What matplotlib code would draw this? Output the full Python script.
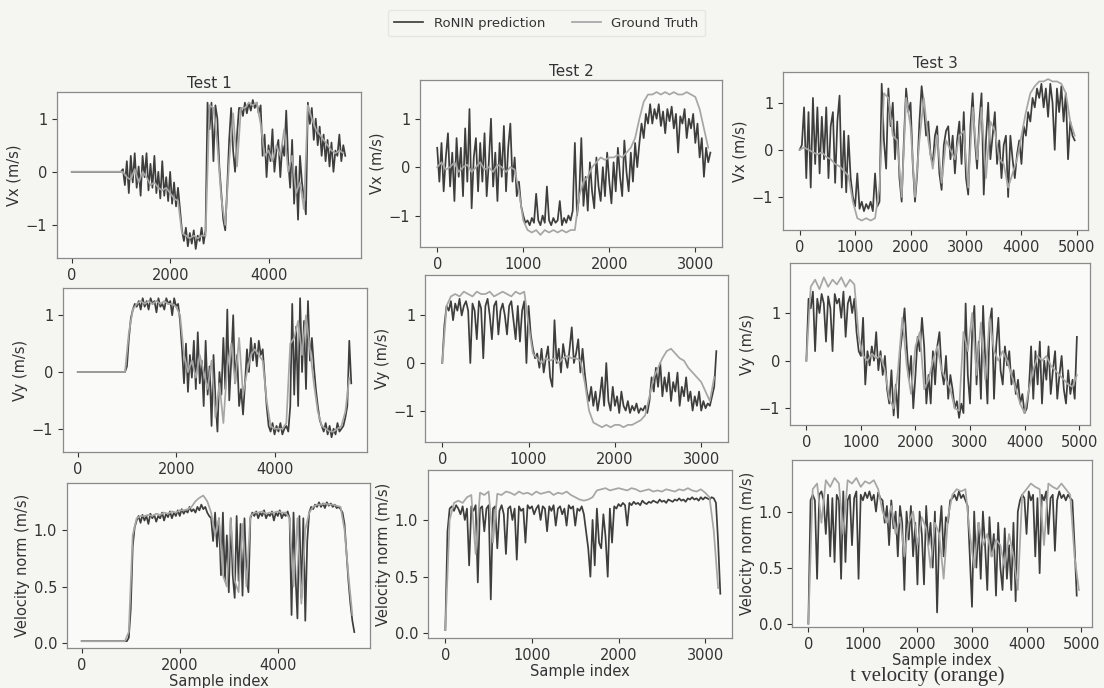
import numpy as np
import matplotlib
matplotlib.use("Agg")
import matplotlib.pyplot as plt

# ---------------- data ----------------
tests = ["Test 1", "Test 2", "Test 3"]
row_labels = ["Vx (m/s)", "Vy (m/s)", "Velocity norm (m/s)"]

step_pred = [40, 25, 40]
step_gt = [80, 50, 80]

t1_vx_pred = ([0.0] * 26 +
    [0.05, -0.25, 0.2, -0.4, 0.3, -0.2, 0.35, -0.3, 0.1, -0.45, 0.3, -0.1, 0.35, -0.35, 0.15,
     -0.3, 0.3, -0.4, 0.0, -0.5, 0.2, -0.45, -0.1, -0.55, 0.0, -0.6, -0.2, -0.65, -0.3, -0.7,
     -1.1, -1.3, -1.05, -1.4, -1.15, -1.35, -1.1, -1.45, -1.2, -1.3, -1.05, -1.35, -1.1,
     1.3, 0.8, 1.3, 0.2, 1.25, 1.0, 0.1,
     -0.4, -0.9, -1.1, -0.3, 0.6, 1.2, 0.4, 0.0, 0.7, 1.2,
     1.2, 1.05, 1.3, 1.1, 1.3, 1.15, 1.35, 1.2, 1.3, 1.1, 1.25,
     0.3, 0.7, -0.1, 0.5, 0.2, 0.8, 0.0, 0.4, 0.6, -0.1, 0.5, 0.3,
     1.15, 0.2, -0.3, 0.6, -0.6, 0.1, -0.9, 0.3, -0.2, -0.5, -0.8,
     1.3, 0.9, 1.2, 0.6, 1.0, 0.5, 0.85, 0.3, 0.7, 0.2, 0.6, 0.1, 0.55, 0.0, 0.4, 0.3, 0.7, 0.2, 0.5, 0.3])
t1_vx_gt = ([0.0] * 13 +
    [0.0, -0.1, -0.15, 0.05, -0.2, 0.0, -0.1, -0.25, -0.2, -0.3, -0.35, -0.3, -0.4, -0.5, -0.55,
     -1.15, -1.2, -1.25, -1.2, -1.25, -1.2, -1.2,
     1.25, 1.2, 0.5,
     -0.5, -1.0, 0.2, 1.1, 0.1,
     1.2, 1.2, 1.3, 1.25, 1.3,
     0.9, 0.3, 0.4, 0.2, 0.5, 0.3,
     0.8, 0.0, 0.3, -0.4, -0.2, -0.7,
     1.25, 1.0, 0.8, 0.7, 0.6, 0.5, 0.4, 0.35, 0.4, 0.35])

t1_vy_pred = ([0.0] * 25 +
    [0.1, 0.6, 0.95, 1.1, 1.2, 1.15,
     1.25, 1.1, 1.3, 1.15, 1.25, 1.1, 1.3, 1.2, 1.25, 1.05, 1.3, 1.15, 1.2, 1.1, 1.3, 1.2, 1.25,
     1.0, 1.3, 1.15, 1.2, 0.9,
     0.4, -0.2, 0.5, -0.35, 0.3, -0.1, 0.55, -0.3, 0.7, -0.2, 0.2, -0.6, 0.55, -0.4, 0.1, -0.95,
     0.3, -0.5, -1.05, 0.0, -0.4, 0.6, -0.3, 1.1, -0.5, 0.2, 1.0, -0.2, 0.3, -0.6, -0.3, -0.75,
     -0.2, 0.4, 0.0, 0.6, 0.2, 0.5, 0.1, 0.55, 0.3, 0.4, -0.1,
     -0.6, -0.95, -1.05, -0.9, -1.1, -0.95, -1.05, -0.9, -1.1, -1.0, -0.95, -1.05, -0.6,
     1.2, -0.4, 0.8, -0.6, 1.3, 0.0, 0.9, -0.3, 1.25, 0.2, 0.6,
     0.1, -0.3, -0.6, -0.85, -0.95, -1.05,
     -0.9, -1.1, -0.95, -1.15, -1.0, -1.1, -0.9, -1.05, -1.0, -0.95, -0.8, -0.6, 0.55, -0.2])
t1_vy_gt = ([0.0] * 12 +
    [0.0, 0.7, 1.1, 1.2,
     1.25, 1.2, 1.25, 1.2, 1.25, 1.2, 1.25, 1.2, 1.2, 1.15, 1.0,
     0.3, 0.0, 0.2, -0.1, 0.3, 0.0, -0.3, 0.2, -0.8, -0.2, -0.9, 0.1, 0.5, -0.2, 0.6, -0.4,
     0.0, 0.3, 0.4, 0.3, 0.2,
     -0.5, -0.95, -1.0, -1.0, -1.0, -0.9,
     0.5, 0.6, 0.9, 0.3, 1.0, 0.4,
     -0.2, -0.7, -0.95, -1.0, -1.05, -1.05, -1.0, -0.95, -0.7, -0.1])

t1_vn_pred = ([0.02] * 24 +
    [0.05, 0.3, 0.85, 1.02,
     1.08, 1.12, 1.06, 1.13, 1.08, 1.12, 1.05, 1.14, 1.1, 1.13, 1.07, 1.12, 1.1, 1.15, 1.08,
     1.14, 1.11, 1.16, 1.1, 1.15, 1.12, 1.17, 1.12, 1.18, 1.14, 1.17, 1.15, 1.2, 1.16, 1.18,
     1.15, 1.2, 1.17, 1.22, 1.18, 1.2, 1.15, 1.12,
     1.1, 0.9, 1.15, 0.85, 1.1, 0.6, 1.15, 0.55, 0.95, 0.45, 1.1, 0.6, 0.4, 1.12, 0.55, 1.05,
     0.42, 1.1, 0.6, 0.45,
     1.1, 1.15, 1.12, 1.16, 1.1, 1.15, 1.12, 1.17, 1.1, 1.14, 1.12, 1.16, 1.08, 1.15, 1.12,
     1.17, 1.1, 1.14, 1.12, 1.16,
     1.1, 0.25, 1.15, 0.6, 0.22, 1.12, 0.4, 1.1, 0.2, 0.9, 1.15,
     1.2, 1.18, 1.22, 1.2, 1.24, 1.2, 1.23, 1.19, 1.24, 1.21, 1.23, 1.2, 1.22, 1.19, 1.2, 1.18, 1.15,
     1.05, 0.8, 0.55, 0.35, 0.2, 0.1])
t1_vn_gt = ([0.02] * 12 +
    [0.1, 0.95,
     1.1, 1.12, 1.12, 1.13, 1.12, 1.14, 1.13, 1.15, 1.14, 1.16, 1.15, 1.17, 1.17, 1.18, 1.2,
     1.25, 1.28, 1.3, 1.25,
     1.15, 0.95, 1.1, 0.6, 0.5, 1.1, 0.55, 0.45, 1.05, 0.5,
     1.12, 1.15, 1.15, 1.16, 1.14, 1.15, 1.15, 1.16, 1.15, 1.15,
     1.1, 0.5, 1.1, 0.35, 1.0,
     1.15, 1.2, 1.22, 1.22, 1.23, 1.22, 1.22, 1.21, 1.2,
     1.0, 0.6, 0.25])

t2_vx_pred = [0.4, -0.3, 0.5, -0.5, 0.2, 0.7, -0.4, 0.3, -0.7, 0.6, -0.2, 0.4, -0.6, 0.8, -0.3,
    1.2, -0.85, 0.2, 0.6, -0.5, 0.5, -0.3, 0.7, -0.6, 0.1, 1.0, -0.4, 0.3, -0.7, 0.5, -0.2, 0.85,
    -0.5, 0.4, 0.9, -0.3, 0.2, -0.6,
    -0.3, -0.8, -1.0, -1.15,
    -1.1, -1.2, -1.05, -1.15, -0.55, -1.1, -1.2, -1.0, -1.15, -0.4, -1.1, -1.2, -1.05, -1.15,
    -1.1, -0.7, -1.2, -1.05, -1.15, -1.0, -1.1, -0.9, 0.5, -1.0,
    -0.6, 0.6, -0.8, -0.2, -0.9, 0.1, -0.5, -0.85, 0.2, -0.4, -0.7, 0.0, -0.6, 0.3, -0.3, -0.75,
    0.1, -0.5, 0.4, -0.2, -0.6, 0.55, -0.1, -0.5, 0.3, -0.3, 0.5, 0.0,
    0.5, 0.9, 0.6, 1.1, 0.9, 1.3,
    0.9, 1.2, 1.0, 1.3, 0.85, 1.15, 0.7, 1.2, 0.95, 1.25, 0.8, 1.1, 0.3, 1.05, 0.9, 1.2, 0.6,
    1.0, 0.8, 1.1,
    0.5, 0.9, 0.2, 0.6, -0.2, 0.4, 0.1, 0.3]
t2_vx_gt = [0.0, 0.1, -0.05, 0.0, 0.1, -0.1, 0.0, 0.05, -0.1, 0.0, 0.1, -0.05, 0.0, -0.1, 0.05,
    0.0, -0.1, 0.0, -0.05,
    -0.5, -1.1,
    -1.3, -1.35, -1.3, -1.4, -1.3, -1.35, -1.3, -1.35, -1.3, -1.35, -1.3, -1.3,
    -0.6, -0.3, -0.2, 0.0, 0.1, 0.2, 0.15, 0.2, 0.2, 0.25, 0.2, 0.3, 0.4, 0.6,
    1.0, 1.35,
    1.5, 1.5, 1.55, 1.5, 1.55, 1.5, 1.55, 1.5, 1.5, 1.55, 1.5, 1.45,
    1.2, 0.8, 0.4]

t2_vy_pred = [0.0, 0.8,
    1.2, 1.1, 1.3, 0.9, 1.25, 1.1, 1.35, 1.0, 1.2, 1.3, 1.1, 0.0, 1.25, 1.1, 0.5, 1.3, 1.15, 0.1,
    1.2, 1.35, 1.0, 0.5, 1.2, 1.3, 0.6, 1.1, 1.25, 1.0, 0.6, 1.2, 1.3, 0.9, 0.5, 1.2, 0.45, 1.1,
    1.3, 0.0,
    1.2, 0.6, 0.3, 0.1,
    0.2, -0.1, 0.3, -0.2, 0.1, 0.35, -0.3, -0.5, 0.9, 0.0, 0.3, -0.2, 0.4, 0.1, -0.1, 0.3, 0.75,
    0.0, 0.2, 0.5, -0.2, 0.3,
    -0.2, -0.6, -0.8, -0.5,
    -0.9, -0.6, -1.0, -0.7, -0.3, -0.9, 0.0, -0.8, -1.0, -0.5, -0.9, -0.7, -1.05, -0.6, -0.9,
    -1.0, -0.8, -1.05, -0.9, -1.0, -0.85, -1.05, -0.95, -1.0, -0.9, -1.05,
    -0.8, -0.3, -0.6, -0.1,
    -0.5, 0.0, -0.7, -0.3, -0.6, -0.2, -0.8, -0.4, -0.6, -0.2, -0.9, -0.5, -0.7, -0.3, -0.8,
    -0.6, -1.0, -0.7, -0.9, -0.6, -1.0, -0.8, -0.95, -0.85,
    -0.9, -0.7, -0.5, 0.25]
t2_vy_gt = [0.0, 1.2,
    1.4, 1.45, 1.4, 1.5, 1.45, 1.4, 1.5, 1.45, 1.45, 1.5, 1.4, 1.45, 1.5, 1.45, 1.4, 1.5, 1.45, 1.5,
    0.8, 0.2,
    0.1, 0.0, 0.1, 0.05, 0.1, 0.0, 0.1, 0.15, 0.1, 0.1, 0.05,
    -0.4, -1.0,
    -1.25, -1.3, -1.35, -1.3, -1.35, -1.3, -1.3, -1.35, -1.3, -1.3, -1.25, -1.2, -1.1,
    -0.7, -0.3, -0.1, 0.1, 0.25, 0.3, 0.2, 0.1, 0.05, -0.1, -0.2, -0.3, -0.4, -0.6, -0.8, -0.3]

t2_vn_pred = [0.03, 0.9,
    1.1, 1.12, 1.08, 1.13, 1.1, 1.05, 1.12, 1.0, 1.1, 0.6, 1.12, 1.08, 1.13, 0.45, 1.1, 1.12, 0.9,
    1.1, 1.13, 0.3, 1.1, 1.12, 0.75, 1.08, 1.13, 1.05, 0.7, 1.1, 1.12, 1.0, 1.1, 0.65, 1.12, 1.08,
    1.1, 0.8, 1.13, 1.1, 1.12, 1.05, 1.1, 1.13, 1.0, 1.12, 1.1, 0.9, 1.12, 1.08, 1.13, 0.95, 1.1,
    1.12, 1.05, 1.1, 0.95, 1.13, 1.1, 1.12, 0.95, 1.1, 1.08, 1.12,
    1.05, 0.9, 0.75, 0.5, 1.0, 0.6, 1.1, 0.8, 0.75, 1.05, 0.85, 0.5, 1.1, 0.8, 1.12, 1.1,
    1.14, 1.12, 1.15, 1.13, 0.95, 1.15, 1.13, 1.16, 1.14, 1.15, 1.13, 1.17, 1.15, 1.14, 1.16,
    1.15, 1.17, 1.16, 1.15, 1.18, 1.16, 1.17, 1.15, 1.18, 1.17, 1.16, 1.18, 1.17, 1.19, 1.17,
    1.18, 1.16, 1.19, 1.18, 1.2, 1.18, 1.19, 1.17, 1.2, 1.18, 1.2, 1.19, 1.18, 1.2, 1.19, 1.15,
    0.8, 0.35]
t2_vn_gt = [0.03, 1.0,
    1.15, 1.17, 1.15, 1.2,
    1.22, 0.7, 1.24, 1.22, 1.25, 0.8, 1.23, 1.22, 1.25, 1.24, 1.22, 1.25, 1.23, 1.24, 1.22, 1.25,
    1.23, 1.24, 1.25, 1.22, 1.24, 1.23, 1.25, 1.22, 1.2, 1.18, 1.17,
    1.18, 1.2, 1.26, 1.27, 1.28, 1.26, 1.27, 1.28, 1.27, 1.26, 1.28, 1.27, 1.25, 1.26, 1.27,
    1.25, 1.26, 1.25, 1.27, 1.26, 1.25, 1.27, 1.26, 1.28, 1.26, 1.25, 1.27, 1.24, 1.2, 0.9, 0.4]

t3_vx_pred = [0.0, 0.1, 0.9,
    -0.6, 0.8, -0.8, 1.1, -0.3, 0.9, -0.5, 0.7, -0.2, 0.9, -0.6, 0.5, 0.8, -0.7, 0.6, 1.15, -0.8,
    0.4, -0.9, 0.3,
    -0.6, -1.0,
    -1.2, -0.5, -1.25, -1.1, -1.3, -1.15, -1.25, -1.1, -1.3, -0.5, -1.2, -1.1,
    1.4, 0.2, -0.4, 1.3, 0.5, 1.0, -0.2, 0.6, -0.6, -1.1, 0.2, 1.3, 0.8, 1.0, -0.3, -1.1, -0.5,
    0.6, 1.35, 0.9, 0.3, 0.6, -0.1, -0.3, 0.3, 0.5, -0.5, -0.85, 0.1, 0.4, 0.5, -0.2, 0.3, -0.5,
    0.2, 0.6, -0.3, 0.8, -0.6, -0.95, 0.5, 1.2, 0.2, -0.4, 0.6, 1.2, -0.95, 0.2, 1.0, -0.2, 0.3,
    0.8, -0.3, 0.2, -0.6, 0.1, 0.3, -1.0, 0.3, -0.2, -0.6, -0.1,
    0.2, -0.3, 0.5, 0.3, 0.8, 0.6, 1.1, 0.9, 1.3, 1.1,
    1.4, 0.9, 1.3, 0.7, 1.4, 1.0, 0.0, 1.3, 0.8, 1.35, 0.6, 1.2, -0.2,
    0.6, 0.3, 0.2]
t3_vx_gt = [0.0, 0.05, 0.0, -0.05, -0.1, -0.05, -0.15, -0.2, -0.3, -0.35, -0.45, -0.55,
    -1.1,
    -1.45, -1.5, -1.45, -1.5, -1.45,
    -0.8,
    1.2, 1.1, 0.3, 0.2, -1.0, 1.1, 0.5, -1.0, 0.2, 1.1, 0.2, -0.4, 0.3, -0.7, 0.2, 0.0, -0.2,
    0.3, 0.4, -0.8, 0.9, -0.2, 0.9, -0.6, 0.6, 0.4, -0.2, -0.3, -0.8, -0.5,
    -0.2, 0.3, 0.8, 1.2, 1.35,
    1.45, 1.45, 1.5, 1.45, 1.45, 1.4, 1.2, 0.6,
    0.3]

t3_vy_pred = [0.0, 1.3,
    1.1, 1.45, 0.2, 1.3, 1.0, 1.4, 1.2, 0.4, 1.35, 1.1, 0.2, 1.4, 1.2, 1.3, 0.9, 1.45, 0.5, 1.2,
    1.35, 1.0, 1.3,
    0.6, 0.2,
    0.1, 0.9, -0.5, 0.2, -0.1, 0.3, 0.0, 0.6, -0.2, 0.2,
    -0.3, 0.1, -0.6, -0.9, -0.2, -1.15, -0.5, -1.2, 0.2, 0.6, 1.1, 0.3, -0.4, 0.1, -1.0, -0.3,
    0.5, 0.2, 0.9, 0.3, -0.9, -0.3, -0.9, 0.2, -0.5, 0.3, 0.6, -0.2, -0.5, 0.1, -0.8, -0.3, -0.6,
    -1.0, -0.85, -1.2, -0.9, -1.1,
    1.2, -0.3, -0.9, 0.6, 1.15, -0.5, 0.4, -0.8, 1.15, 0.0, -0.9, 0.8, 1.1, -0.8, 0.3, 0.9,
    -0.2, -0.5,
    0.3, -0.1, 0.2, -0.5, -0.2, -0.7, -0.4, -0.9, -0.7, -1.1, -1.0,
    -0.6, 0.3, -0.8, 0.2, -0.5, 0.4, -0.9, 0.0, -0.4, 0.3, -0.7, -0.2, 0.2, -0.8, -0.3, 0.1,
    -0.6, -0.9, -0.2, -0.7, -0.4, -0.8, 0.5]
t3_vy_gt = [0.0,
    1.55, 1.7, 1.5, 1.75, 1.55, 1.7, 1.6, 1.75, 1.55, 1.7, 1.6,
    0.5,
    0.1, 0.0, 0.15, 0.05, 0.1,
    -0.2, -0.8, -1.0, -0.2, 0.9, -0.1, -0.7, 0.3, 0.6, -0.6, -0.4, 0.0, 0.3, -0.2, -0.4, -0.6,
    -1.0, -1.05,
    0.6, 0.2, 1.0, -0.3, 0.8, -0.4, 0.9, 0.2, 0.0,
    0.2, 0.0, -0.3, -0.6, -0.9, -1.1,
    -0.6, -0.2, 0.1, 0.0, 0.1, -0.1, -0.2, -0.3, -0.4, -0.5, -0.55, -0.3]

t3_vn_pred = [0.0, 1.1,
    1.15, 1.1, 0.4, 1.15, 1.18, 1.1, 0.8, 1.15, 0.6, 1.12, 0.55, 1.15, 1.1, 0.4, 1.18, 0.55, 1.1,
    1.15, 0.7, 1.12, 1.18, 0.4, 1.15, 1.1, 1.17, 1.12, 1.18, 1.1, 1.15, 1.0, 1.17, 1.12,
    1.1, 0.9, 1.05, 0.7, 1.1, 0.85, 1.0, 0.6, 1.05, 0.9, 0.3, 1.0, 0.75, 1.05, 0.6, 0.9, 0.35,
    1.0, 0.8, 0.35, 1.05, 0.7, 0.9, 0.5, 1.0, 0.1, 0.8, 1.05, 0.6, 0.95, 0.9, 1.1,
    1.12, 1.15, 1.1, 1.18, 1.12, 1.15, 1.1, 1.05,
    0.6, 0.15, 1.0, 0.5, 0.9, 0.4, 1.0, 0.7, 0.3, 0.95, 0.6, 0.8, 0.25, 0.9, 0.5, 0.3, 0.85,
    0.4, 0.7, 0.3, 0.9,
    0.2, 1.0,
    1.1, 1.15, 1.12, 0.8, 1.18, 1.1, 1.15, 0.6, 1.12, 0.45, 1.15, 1.1, 1.18, 0.8, 1.12, 1.15,
    0.65, 1.1, 1.18, 1.12, 1.15, 1.1, 1.15, 1.12, 1.1,
    0.7, 0.25]
t3_vn_gt = [0.0,
    1.2, 1.25, 0.9, 1.28, 1.22, 1.3, 1.25, 0.8, 1.28, 1.25, 1.3, 1.22, 1.27, 1.25, 1.28, 1.2,
    1.0, 0.9, 1.05, 0.8, 0.95, 0.6, 0.9, 1.0, 0.7, 0.95, 0.85, 0.5, 0.9, 0.8, 0.4, 0.95,
    1.15, 1.2, 1.18, 1.2,
    0.8, 0.5, 0.9, 0.7, 0.8, 0.6, 0.75, 0.7, 0.5, 0.8,
    0.6,
    0.3, 1.15, 1.2, 1.25, 1.22, 1.2, 0.7, 1.25, 1.22, 1.2, 1.25, 1.2, 1.15,
    0.6, 0.3]

pred = [[t1_vx_pred, t2_vx_pred, t3_vx_pred],
        [t1_vy_pred, t2_vy_pred, t3_vy_pred],
        [t1_vn_pred, t2_vn_pred, t3_vn_pred]]
gt = [[t1_vx_gt, t2_vx_gt, t3_vx_gt],
      [t1_vy_gt, t2_vy_gt, t3_vy_gt],
      [t1_vn_gt, t2_vn_gt, t3_vn_gt]]

xticks = [[0, 2000, 4000], [0, 1000, 2000, 3000], [0, 1000, 2000, 3000, 4000, 5000]]
yticks = [[-1, 0, 1], [-1, 0, 1], [0.0, 0.5, 1.0]]

# ---------------- layout ----------------
W, H = 1104, 688
BG = "#f5f5f2"
C_PRED = "#3e3e3e"
C_GT = "#a6a6a6"

# pixel boxes (left, top, right, bottom)
boxes = [[(57, 92, 361, 258), (420, 80, 722, 247), (783, 72, 1088, 230)],
         [(63, 288, 367, 452), (425, 275, 728, 442), (790, 263, 1090, 425)],
         [(67, 483, 370, 648), (428, 470, 732, 638), (792, 460, 1092, 627)]]
xlims = [(-300, 5880), (-200, 3310), (-300, 5200)]
ylims = [[(-1.62, 1.5), (-1.65, 1.8), (-1.7, 1.65)],
         [(-1.41, 1.48), (-1.66, 1.85), (-1.35, 2.05)],
         [(-0.04, 1.41), (-0.04, 1.44), (-0.03, 1.46)]]

plt.rcParams["font.family"] = ["DejaVu Sans"]
fig = plt.figure(figsize=(W / 100, H / 100), dpi=100, facecolor=BG)

handles = None
for r in range(3):
    for c in range(3):
        l, t, rr, b = boxes[r][c]
        ax = fig.add_axes([l / W, 1 - b / H, (rr - l) / W, (b - t) / H])
        ax.set_facecolor("#fafaf8")
        p = np.asarray(pred[r][c], dtype=float)
        g = np.asarray(gt[r][c], dtype=float)
        xp = np.arange(len(p)) * step_pred[c]
        xg = np.arange(len(g)) * step_gt[c]
        h1, = ax.plot(xp, p, color=C_PRED, lw=1.25, label="RoNIN prediction")
        h2, = ax.plot(xg, g, color=C_GT, lw=1.25, label="Ground Truth")
        handles = [h1, h2]
        ax.set_xlim(*xlims[c])
        ax.set_ylim(*ylims[r][c])
        ax.set_xticks(xticks[c])
        ax.set_yticks(yticks[r])
        if r == 2:
            ax.set_yticklabels(["0.0", "0.5", "1.0"])
        ax.tick_params(labelsize=10.5, colors="#333333", length=3.5, width=0.8)
        for s in ax.spines.values():
            s.set_color("#8a8a8a")
            s.set_linewidth(0.9)
        ax.set_ylabel(row_labels[r], fontsize=10.5, color="#333333", labelpad=3)
        if r == 0:
            ax.set_title(tests[c], fontsize=11, color="#333333", pad=3)
        if r == 2:
            ax.set_xlabel("Sample index", fontsize=10.5, color="#333333", labelpad=1)

leg = fig.legend(handles, ["RoNIN prediction", "Ground Truth"], loc="upper center",
                 bbox_to_anchor=(0.495, 0.995), ncol=2, fontsize=9.5, frameon=True,
                 handlelength=2.2, columnspacing=2.0, borderpad=0.5)
leg.get_frame().set_edgecolor("#e2e2e2")
leg.get_frame().set_facecolor(BG)
for txt in leg.get_texts():
    txt.set_color("#333333")

fig.text(850 / W, 1 - 681 / H, "t velocity (orange)", fontsize=15, family="Liberation Serif",
         color="#333333", ha="left", va="baseline")

fig.savefig("out.png", dpi=100, facecolor=BG)
